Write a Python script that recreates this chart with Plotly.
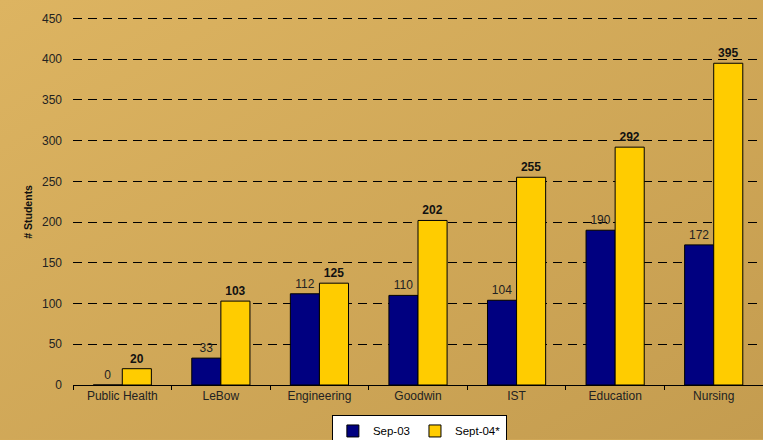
import base64
import plotly.graph_objects as go

categories = ["Public Health", "LeBow", "Engineering", "Goodwin", "IST", "Education", "Nursing"]
sep03 = [0, 33, 112, 110, 104, 190, 172]
sep04 = [20, 103, 125, 202, 255, 292, 395]
y_ticks = [0, 50, 100, 150, 200, 250, 300, 350, 400, 450]

svg = ('<svg xmlns="http://www.w3.org/2000/svg" width="100" height="100" preserveAspectRatio="none">'
       '<defs><linearGradient id="g" x1="0" y1="0" x2="1" y2="1">'
       '<stop offset="0" stop-color="#DDB461"/><stop offset="1" stop-color="#C49C4F"/>'
       '</linearGradient></defs><rect width="100" height="100" fill="url(#g)"/></svg>')
bg_src = "data:image/svg+xml;base64," + base64.b64encode(svg.encode()).decode()

font = "Liberation Sans, Arial, sans-serif"
Y_ZERO = 385.5
PX_PER_UNIT = 367.0 / 450
Y_MAX = 453
H_PLOT = Y_MAX * PX_PER_UNIT
T_MARGIN = Y_ZERO - H_PLOT
B_MARGIN = 440 - Y_ZERO
W_PLOT = 690

fig = go.Figure()
fig.add_trace(go.Bar(
    x=categories, y=sep03, name="Sep-03",
    marker=dict(color="#000080", line=dict(color="#000000", width=1)),
    text=sep03, texttemplate="%{y}", textposition="outside", constraintext="none",
    textfont=dict(family=font, size=12, color="#222222"),
    cliponaxis=False,
))
fig.add_trace(go.Bar(
    x=categories, y=sep04, name="Sept-04*",
    marker=dict(color="#FFCC00", line=dict(color="#000000", width=1)),
    text=sep04, texttemplate="<b>%{y}</b>", textposition="outside", constraintext="none",
    textfont=dict(family=font, size=12, color="#111111"),
    cliponaxis=False,
))

fig.update_layout(
    width=763, height=440,
    margin=dict(l=73, r=0, t=T_MARGIN, b=B_MARGIN, autoexpand=False),
    paper_bgcolor="#D2A958", plot_bgcolor="rgba(0,0,0,0)",
    barmode="group", bargap=0.41, bargroupgap=0,
    font=dict(family=font, size=12, color="#222222"),
    images=[dict(source=bg_src, xref="paper", yref="paper", x=-73 / W_PLOT, y=1 + T_MARGIN / H_PLOT,
                 sizex=763 / W_PLOT, sizey=440 / H_PLOT, xanchor="left", yanchor="top",
                 sizing="stretch", layer="below")],
    showlegend=True,
    legend=dict(orientation="h", x=0.502, xanchor="center", y=-(416 - Y_ZERO) / H_PLOT, yanchor="top",
                bgcolor="#FFFFFF", bordercolor="#000000", borderwidth=1,
                font=dict(family=font, size=11.5, color="#000000"),
                itemwidth=30, tracegroupgap=0),
    xaxis=dict(showgrid=False, showline=True, linecolor="#000000", linewidth=1,
               ticks="outside", tickson="boundaries", ticklen=4, tickcolor="#000000",
               tickfont=dict(family=font, size=12, color="#222222")),
    yaxis=dict(range=[0, Y_MAX], tickvals=y_ticks, showgrid=True, gridcolor="#000000",
               griddash="9px,6px", gridwidth=1, zeroline=False, showline=False,
               ticks="", ticklabelstandoff=10,
               tickfont=dict(family=font, size=12, color="#222222")),
    annotations=[dict(text="<b># Students</b>", textangle=-90, showarrow=False,
                      xref="paper", yref="paper", x=(28 - 73) / W_PLOT, y=(Y_ZERO - 212) / H_PLOT,
                      xanchor="center", yanchor="middle",
                      font=dict(family=font, size=10.5, color="#111111"))],
)

fig.write_html("out.html", config={"displayModeBar": False},
               post_script="document.body.style.margin='0';document.body.style.padding='0';")
